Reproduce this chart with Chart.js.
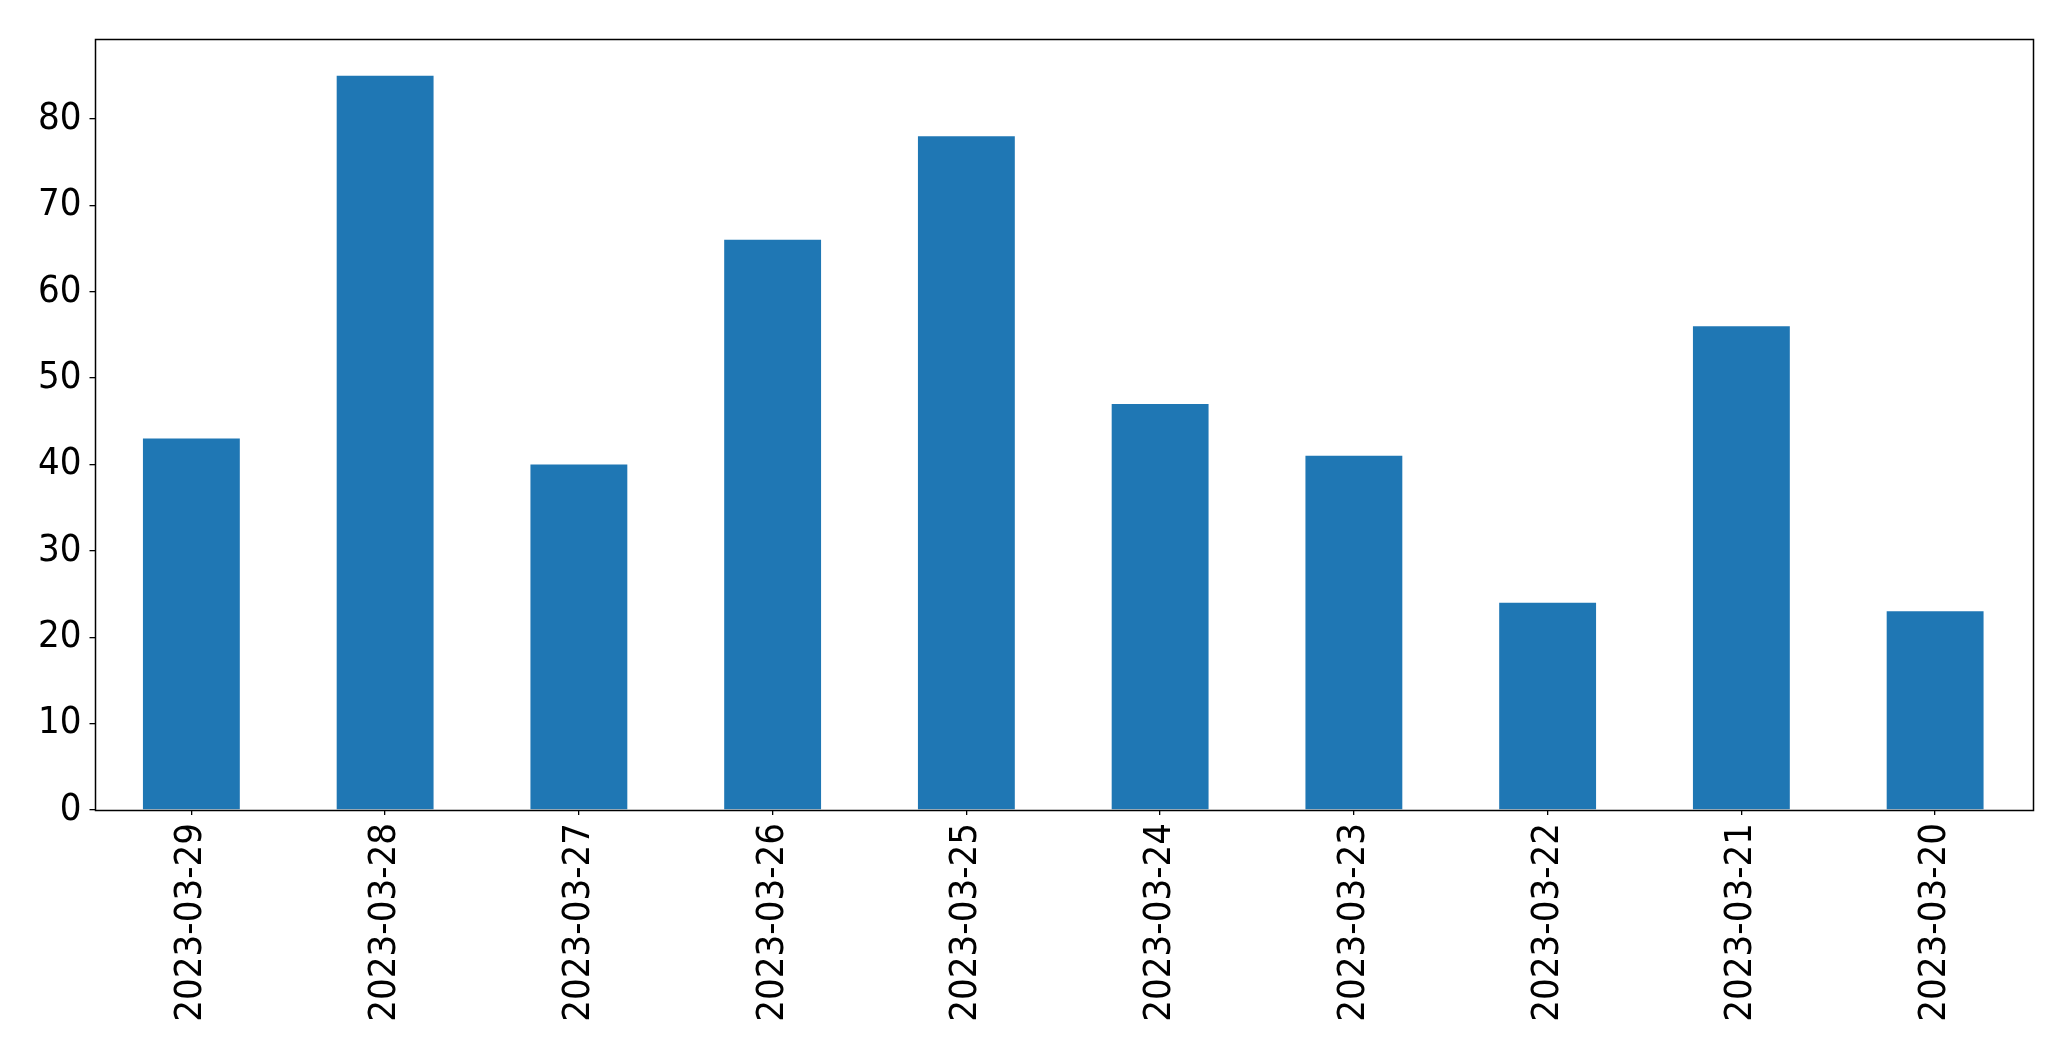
<!DOCTYPE html>
<html>
<head>
<meta charset="utf-8">
<style>
  html, body { margin: 0; padding: 0; background: #fff; }
  #wrap { width: 2071px; height: 1061px; }
</style>
<script src="https://cdn.jsdelivr.net/npm/chart.js@4/dist/chart.umd.min.js"></script>
</head>
<body>
<div id="wrap"><canvas id="myChart" width="2071" height="1061"></canvas></div>
<script>
const dates = ['2023-03-29', '2023-03-28', '2023-03-27', '2023-03-26', '2023-03-25',
               '2023-03-24', '2023-03-23', '2023-03-22', '2023-03-21', '2023-03-20'];
const counts = [43, 85, 40, 66, 78, 47, 41, 24, 56, 23];
const yTicks = [0, 10, 20, 30, 40, 50, 60, 70, 80];

const fontFamily = '"DejaVu Sans Condensed", "DejaVu Sans", sans-serif';

// full box round the plot, like matplotlib spines
const frame = {
    id: 'frame',
    afterDraw(chart) {
        const a = chart.chartArea;
        const c = chart.ctx;
        c.save();
        c.strokeStyle = '#000';
        c.lineWidth = 1.5;
        c.strokeRect(Math.round(a.left) + 0.5, Math.round(a.top) + 0.5,
                     Math.round(a.right - a.left), Math.round(a.bottom - a.top));
        c.restore();
    }
};

new Chart('myChart', {
    type: 'bar',
    data: {
        labels: dates,
        datasets: [{
            data: counts,
            backgroundColor: '#1f77b4',
            barPercentage: 0.5,
            categoryPercentage: 1.0
        }]
    },
    options: {
        responsive: false,
        animation: false,
        layout: { padding: { top: 39, right: 39, left: 0, bottom: 0 } },
        plugins: { legend: { display: false }, tooltip: { enabled: false } },
        scales: {
            x: {
                offset: true,
                grid: { offset: false, drawOnChartArea: false, drawTicks: true, tickLength: 5, color: '#000', lineWidth: 1.3 },
                border: { display: false },
                ticks: {
                    color: '#000',
                    font: { family: fontFamily, size: 38 },
                    minRotation: 90,
                    maxRotation: 90,
                    padding: 8,
                    autoSkip: false
                },
                afterFit(scale) { scale.height = 251; }
            },
            y: {
                min: 0,
                max: 89.25,
                grid: { drawOnChartArea: false, drawTicks: true, tickLength: 5, color: '#000', lineWidth: 1.3 },
                border: { display: false },
                ticks: {
                    color: '#000',
                    font: { family: fontFamily, size: 38 },
                    padding: 8,
                    stepSize: 10
                },
                afterBuildTicks(scale) {
                    scale.ticks = yTicks.map(v => ({ value: v }));
                },
                afterFit(scale) { scale.width = 94.5; }
            }
        }
    },
    plugins: [frame]
});
</script>
</body>
</html>
